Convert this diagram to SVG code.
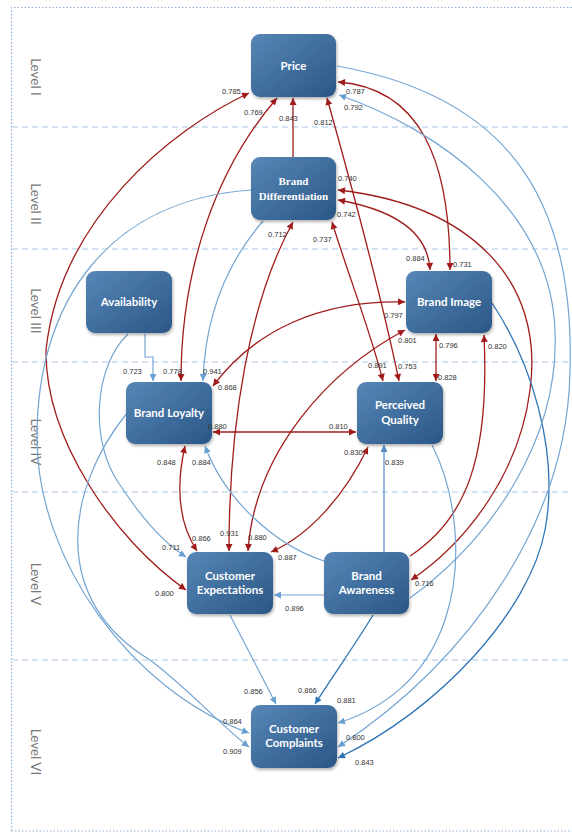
<svg xmlns="http://www.w3.org/2000/svg" width="572" height="833" viewBox="0 0 572 833">
<defs>
<linearGradient id="ng" x1="0" y1="0" x2="1" y2="1">
<stop offset="0" stop-color="#5687b7"/>
<stop offset="1" stop-color="#2a5685"/>
</linearGradient>
<filter id="sh" x="-10%" y="-10%" width="130%" height="130%">
<feDropShadow dx="1" dy="2" stdDeviation="1.5" flood-color="#000" flood-opacity="0.3"/>
</filter>
<marker id="ar" viewBox="0 0 10 10" refX="10" refY="5" markerWidth="8" markerHeight="7" markerUnits="userSpaceOnUse" orient="auto-start-reverse"><path d="M0,0 L10,5 L0,10 z" fill="#a01c1c"/></marker>
<marker id="ab" viewBox="0 0 10 10" refX="10" refY="5" markerWidth="8" markerHeight="7" markerUnits="userSpaceOnUse" orient="auto-start-reverse"><path d="M0,0 L10,5 L0,10 z" fill="#6a9fd2"/></marker>
<marker id="ad" viewBox="0 0 10 10" refX="10" refY="5" markerWidth="8" markerHeight="7" markerUnits="userSpaceOnUse" orient="auto-start-reverse"><path d="M0,0 L10,5 L0,10 z" fill="#2f75b5"/></marker>
<marker id="am" viewBox="0 0 10 10" refX="10" refY="5" markerWidth="8" markerHeight="7" markerUnits="userSpaceOnUse" orient="auto-start-reverse"><path d="M0,0 L10,5 L0,10 z" fill="#4f8cc6"/></marker>
</defs>
<style>
.frame{stroke:#8fb0d0;stroke-width:1.2;stroke-dasharray:1.5 2;fill:none}
.lvl{stroke:#a9c8e4;stroke-width:1.2;stroke-dasharray:6 4;fill:none}
.lt{font-family:Lato,"Open Sans","Liberation Sans",sans-serif;font-size:13.5px;fill:#777;text-anchor:middle}
.node{fill:url(#ng);filter:url(#sh)}
.nt{font-family:Lato,"Open Sans","Liberation Sans",sans-serif;font-weight:bold;font-size:11.5px;fill:#fff;text-anchor:middle}
.ns{font-family:"Liberation Serif","Times New Roman",serif;font-weight:bold;font-size:11px;fill:#fff;text-anchor:middle}
.r{stroke:#a01c1c;stroke-width:1.3;fill:none;marker-end:url(#ar)}
.rd{marker-start:url(#ar)}
.b{stroke:#74a5d3;stroke-width:1.2;fill:none;marker-end:url(#ab)}
.m{stroke:#4f8cc6;stroke-width:1.2;fill:none;marker-end:url(#am)}
.d{stroke:#2f75b5;stroke-width:1.3;fill:none;marker-end:url(#ad)}
.lb{font-family:"Liberation Sans",Arial,sans-serif;font-size:7.5px;fill:#333}
</style>
<rect width="572" height="833" fill="#fff"/>
<g id="frame">
<path class="frame" d="M11.5,831 V7.5 H572 M11.5,831 H572"/>
<path class="lvl" d="M12,127 H572 M12,249 H572 M12,362 H572 M12,492 H572 M12,660 H572"/>
<text class="lt" transform="translate(31,77) rotate(90)">Level I</text>
<text class="lt" transform="translate(31,204) rotate(90)">Level II</text>
<text class="lt" transform="translate(31,311) rotate(90)">Level III</text>
<text class="lt" transform="translate(31,442) rotate(90)">Level IV</text>
<text class="lt" transform="translate(31,584) rotate(90)">Level V</text>
<text class="lt" transform="translate(31,752) rotate(90)">Level VI</text>
</g>
<g id="connectors">
<path class="r rd" d="M249,93 C170,130 60,220 46,350 C45,440 115,540 186,590"/>
<path class="r rd" d="M277,98 C215,170 181,270 181,381"/>
<path class="r" d="M293,157 L293,98"/>
<path class="r rd" d="M327,98 C350,180 380,290 399,381"/>
<path class="r rd" d="M338,82 C420,88 450,160 450,270"/>
<path class="r rd" d="M338,190 C470,205 545,280 530,390 C520,470 470,540 411,580"/>
<path class="r rd" d="M338,200 C395,210 428,232 430,270"/>
<path class="r rd" d="M332,222 C350,280 370,330 383,381"/>
<path class="r rd" d="M293,222 C250,300 229,420 229,551"/>
<path class="r rd" d="M405,302 C320,300 255,330 213,386"/>
<path class="r rd" d="M405,330 C330,370 255,450 248,551"/>
<path class="r rd" d="M436,334 L436,381"/>
<path class="r" d="M410,556 C465,520 490,460 484,335"/>
<path class="r rd" d="M213,432 L356,432"/>
<path class="r rd" d="M185,446 C175,490 180,525 197,551"/>
<path class="r rd" d="M368,447 C345,495 310,535 271,552"/>
<path class="b" d="M263,221 C225,265 205,320 203,381"/>
<path class="b" d="M145,334 V357 H153 V381"/>
<path class="b" d="M128,334 C95,365 88,440 120,485 C140,515 160,540 186,557"/>
<path class="b" d="M324,561 C275,545 225,500 205,446"/>
<path class="m" d="M384,552 L384,445"/>
<path class="b" d="M324,595 L274,595"/>
<path class="b" d="M230,615 L276,704"/>
<path class="d" d="M373,615 C355,645 330,680 315,704"/>
<path class="d" d="M492,303 C530,360 560,450 545,530 C530,610 440,710 338,758"/>
<path class="b" d="M251,190 C110,200 36,300 37,440 C38,560 130,690 249,733"/>
<path class="b" d="M127,413 C65,490 50,600 150,660 C190,690 220,725 249,747"/>
<path class="b" d="M432,445 C455,490 465,560 445,620 C425,680 380,710 338,723"/>
<path class="b" d="M337,66 C500,95 575,190 570,370 C568,520 470,660 338,747"/>
<path class="b" d="M410,598 C490,540 560,440 555,330 C550,210 440,130 339,95"/>
</g>
<g id="price"><rect class="node" x="251" y="34" width="85" height="63" rx="9"/><text class="nt" x="293.5" y="70">Price</text></g>
<g id="brand-differentiation"><rect class="node" x="251" y="157" width="85" height="63" rx="9"/><text class="ns" x="293.5" y="185">Brand</text><text class="ns" x="293.5" y="200">Differentiation</text></g>
<g id="availability"><rect class="node" x="86" y="271" width="86" height="62" rx="9"/><text class="nt" x="129" y="306">Availability</text></g>
<g id="brand-image"><rect class="node" x="406" y="271" width="86" height="62" rx="9"/><text class="nt" x="449" y="306">Brand Image</text></g>
<g id="brand-loyalty"><rect class="node" x="126" y="382" width="86" height="62" rx="9"/><text class="nt" x="169" y="417">Brand Loyalty</text></g>
<g id="perceived-quality"><rect class="node" x="357" y="382" width="86" height="62" rx="9"/><text class="nt" x="400" y="409">Perceived</text><text class="nt" x="400" y="424">Quality</text></g>
<g id="customer-expectations"><rect class="node" x="187" y="552" width="86" height="62" rx="9"/><text class="nt" x="230" y="580">Customer</text><text class="nt" x="230" y="594">Expectations</text></g>
<g id="brand-awareness"><rect class="node" x="324" y="552" width="85" height="62" rx="9"/><text class="nt" x="366.5" y="580">Brand</text><text class="nt" x="366.5" y="594">Awareness</text></g>
<g id="customer-complaints"><rect class="node" x="251" y="705" width="86" height="63" rx="9"/><text class="nt" x="294" y="733">Customer</text><text class="nt" x="294" y="747">Complaints</text></g>
<g id="labels">
<text class="lb" x="222" y="94">0.785</text>
<text class="lb" x="244" y="115">0.769</text>
<text class="lb" x="279" y="121">0.843</text>
<text class="lb" x="314" y="125">0.812</text>
<text class="lb" x="346" y="94">0.787</text>
<text class="lb" x="344" y="110">0.792</text>
<text class="lb" x="338" y="181">0.740</text>
<text class="lb" x="337" y="217">0.742</text>
<text class="lb" x="268" y="237">0.712</text>
<text class="lb" x="313" y="242">0.737</text>
<text class="lb" x="406" y="261">0.884</text>
<text class="lb" x="453" y="267">0.731</text>
<text class="lb" x="384" y="318">0.797</text>
<text class="lb" x="398" y="343">0.801</text>
<text class="lb" x="439" y="348">0.796</text>
<text class="lb" x="488" y="349">0.820</text>
<text class="lb" x="368" y="368">0.891</text>
<text class="lb" x="398" y="369">0.753</text>
<text class="lb" x="438" y="380">0.828</text>
<text class="lb" x="123" y="374">0.723</text>
<text class="lb" x="163" y="374">0.778</text>
<text class="lb" x="203" y="374">0.941</text>
<text class="lb" x="218" y="390">0.868</text>
<text class="lb" x="208" y="429">0.880</text>
<text class="lb" x="329" y="429">0.810</text>
<text class="lb" x="344" y="455">0.830</text>
<text class="lb" x="385" y="465">0.839</text>
<text class="lb" x="157" y="465">0.848</text>
<text class="lb" x="192" y="465">0.884</text>
<text class="lb" x="162" y="550">0.711</text>
<text class="lb" x="192" y="541">0.866</text>
<text class="lb" x="220" y="536">0.931</text>
<text class="lb" x="248" y="540">0.880</text>
<text class="lb" x="278" y="560">0.887</text>
<text class="lb" x="155" y="596">0.800</text>
<text class="lb" x="285" y="611">0.896</text>
<text class="lb" x="415" y="586">0.716</text>
<text class="lb" x="244" y="694">0.856</text>
<text class="lb" x="298" y="693">0.866</text>
<text class="lb" x="337" y="703">0.881</text>
<text class="lb" x="223" y="724">0.864</text>
<text class="lb" x="223" y="754">0.909</text>
<text class="lb" x="346" y="740">0.800</text>
<text class="lb" x="355" y="765">0.843</text>
</g>
</svg>
